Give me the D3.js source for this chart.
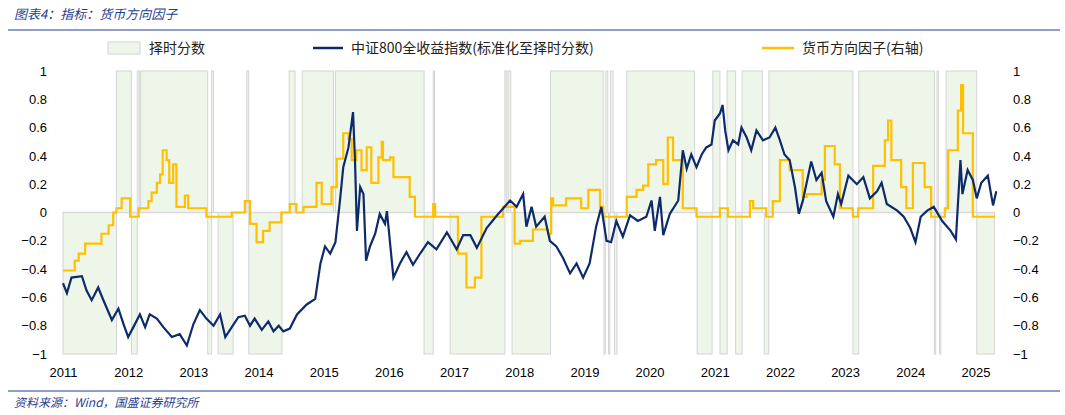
<!DOCTYPE html>
<html><head><meta charset="utf-8">
<script src="https://cdn.jsdelivr.net/npm/d3@7"></script>
<style>body{margin:0;background:#fff;font-family:"Noto Sans CJK SC","Noto Sans",sans-serif}</style>
</head><body><svg id="c" width="1065" height="415"></svg>
<script>
const yearTicks=[2011,2012,2013,2014,2015,2016,2017,2018,2019,2020,2021,2022,2023,2024,2025];
const yTicks=[1,0.8,0.6,0.4,0.2,0,-0.2,-0.4,-0.6,-0.8,-1];
// timing score segments: [start, end, score]
const shadeStart=[2011.0,2011.82,2012.05,2012.14,2012.19,2013.22,2013.28,2013.38,2013.82,2013.85,2014.47,2014.67,2015.18,2016.54,2016.68,2016.94,2017.78,2017.83,2017.89,2018.48,2019.30,2019.33,2019.37,2019.40,2019.46,2019.65,2020.73,2020.97,2021.08,2021.19,2021.32,2021.42,2021.76,2021.83,2023.12,2023.21,2024.37,2024.41,2024.45,2024.55,2025.02];
const shadeEnd  =[2011.82,2012.05,2012.14,2012.17,2013.22,2013.28,2013.31,2013.61,2013.85,2014.36,2014.56,2015.15,2016.54,2016.68,2016.70,2017.78,2017.81,2017.87,2018.48,2019.29,2019.32,2019.36,2019.39,2019.44,2019.50,2020.69,2020.96,2021.08,2021.19,2021.32,2021.42,2021.73,2021.83,2023.12,2023.21,2024.37,2024.39,2024.43,2024.47,2025.02,2025.29];
const shadeScore=[-1,1,-1,1,1,-1,1,-1,1,-1,1,1,1,-1,1,-1,1,1,-1,1,-1,1,-1,1,-1,1,-1,1,-1,1,-1,1,-1,1,-1,1,-1,1,-1,1,-1];
const idxYear=[2011.00,2011.06,2011.13,2011.29,2011.36,2011.44,2011.54,2011.62,2011.75,2011.85,2011.93,2012.00,2012.08,2012.18,2012.26,2012.33,2012.44,2012.54,2012.67,2012.79,2012.90,2013.00,2013.10,2013.20,2013.31,2013.41,2013.49,2013.59,2013.69,2013.79,2013.87,2013.94,2014.05,2014.15,2014.23,2014.31,2014.38,2014.48,2014.59,2014.74,2014.87,2014.95,2015.02,2015.10,2015.18,2015.25,2015.30,2015.38,2015.45,2015.48,2015.51,2015.56,2015.61,2015.65,2015.71,2015.79,2015.86,2015.94,2015.97,2016.07,2016.17,2016.27,2016.37,2016.48,2016.60,2016.73,2016.89,2017.04,2017.14,2017.25,2017.35,2017.50,2017.66,2017.86,2017.96,2018.06,2018.11,2018.19,2018.26,2018.39,2018.47,2018.57,2018.67,2018.78,2018.88,2018.98,2019.08,2019.18,2019.26,2019.34,2019.41,2019.49,2019.59,2019.70,2019.82,2019.95,2020.03,2020.08,2020.16,2020.21,2020.31,2020.44,2020.51,2020.57,2020.64,2020.72,2020.80,2020.87,2020.95,2021.00,2021.08,2021.12,2021.16,2021.21,2021.28,2021.36,2021.41,2021.49,2021.56,2021.64,2021.74,2021.84,2021.93,2022.00,2022.07,2022.15,2022.23,2022.29,2022.35,2022.48,2022.56,2022.64,2022.71,2022.82,2022.89,2022.94,2023.05,2023.18,2023.28,2023.38,2023.49,2023.56,2023.64,2023.80,2023.90,2024.00,2024.08,2024.16,2024.26,2024.36,2024.49,2024.62,2024.70,2024.77,2024.80,2024.88,2024.96,2025.02,2025.09,2025.19,2025.27,2025.32];
const idxValue=[-0.50,-0.57,-0.46,-0.45,-0.55,-0.62,-0.53,-0.62,-0.76,-0.68,-0.79,-0.88,-0.81,-0.72,-0.81,-0.72,-0.75,-0.81,-0.88,-0.86,-0.94,-0.79,-0.69,-0.75,-0.80,-0.72,-0.88,-0.81,-0.74,-0.73,-0.80,-0.75,-0.83,-0.77,-0.84,-0.80,-0.84,-0.82,-0.72,-0.65,-0.61,-0.36,-0.24,-0.29,-0.21,0.085,0.32,0.46,0.71,0.37,-0.13,0.18,0.13,-0.34,-0.24,-0.15,-0.01,-0.08,0.01,-0.46,-0.36,-0.28,-0.37,-0.29,-0.21,-0.26,-0.14,-0.26,-0.16,-0.16,-0.25,-0.11,-0.02,0.085,0.04,0.13,-0.10,0.04,-0.10,-0.03,-0.20,-0.24,-0.32,-0.43,-0.36,-0.46,-0.36,-0.10,0.04,-0.20,-0.21,-0.06,-0.17,-0.02,-0.06,-0.03,0.085,-0.13,0.11,-0.16,-0.01,0.085,0.44,0.31,0.41,0.32,0.41,0.46,0.48,0.65,0.70,0.76,0.58,0.44,0.51,0.48,0.60,0.53,0.44,0.58,0.51,0.53,0.60,0.51,0.41,0.37,0.18,-0.01,0.08,0.36,0.23,0.28,0.08,-0.03,0.13,0.06,0.26,0.20,0.25,0.10,0.15,0.21,0.06,0.013,-0.03,-0.11,-0.21,-0.03,0.013,0.04,-0.06,-0.13,-0.19,0.37,0.13,0.30,0.23,0.10,0.21,0.26,0.05,0.15];
const facYear=[2011.00,2011.18,2011.24,2011.34,2011.59,2011.70,2011.77,2011.82,2011.90,2012.03,2012.16,2012.31,2012.36,2012.44,2012.49,2012.53,2012.59,2012.63,2012.69,2012.74,2012.87,2012.92,2013.20,2013.59,2013.79,2013.87,2013.97,2014.07,2014.17,2014.35,2014.48,2014.58,2014.69,2014.89,2014.97,2015.12,2015.20,2015.30,2015.38,2015.43,2015.50,2015.58,2015.66,2015.73,2015.84,2015.89,2015.91,2016.02,2016.07,2016.32,2016.40,2016.68,2016.71,2017.06,2017.19,2017.32,2017.42,2017.75,2017.93,2018.01,2018.21,2018.44,2018.49,2018.52,2018.72,2018.95,2019.06,2019.24,2019.29,2019.65,2019.80,2019.90,2019.98,2020.10,2020.21,2020.28,2020.36,2020.51,2020.72,2021.08,2021.20,2021.54,2021.59,2021.79,2021.89,2022.00,2022.15,2022.35,2022.41,2022.64,2022.69,2022.84,2022.92,2023.12,2023.20,2023.43,2023.61,2023.66,2023.71,2023.86,2023.94,2024.04,2024.22,2024.32,2024.53,2024.58,2024.73,2024.78,2024.81,2024.96,2025.30];
const facValue=[-0.41,-0.34,-0.29,-0.22,-0.15,-0.09,0,0.03,0.10,-0.03,0.03,0.08,0.14,0.21,0.27,0.44,0.37,0.21,0.34,0.04,0.12,0.03,-0.03,0,0.08,-0.08,-0.21,-0.13,-0.07,0,0.06,0,0.04,0.21,0.06,0.18,0.38,0.56,0.52,0.37,0.44,0.30,0.46,0.21,0.39,0.50,0.37,0.39,0.25,0.11,-0.03,0.06,-0.03,-0.29,-0.53,-0.46,-0.03,0.04,-0.22,-0.20,-0.12,-0.15,0.10,0.05,0.10,0.03,0.16,0.04,-0.03,0.11,0.16,0.19,0.34,0.37,0.20,0.53,0.37,0.03,-0.03,0.03,-0.03,0.08,0.03,-0.03,0.08,0.37,0.30,0.11,0.13,0.23,0.47,0.34,0.03,-0.03,0.03,0.33,0.51,0.65,0.37,0.18,0.03,0.35,0.18,-0.03,0.03,0.44,0.72,0.90,0.56,-0.03,-0.03];

const svg=d3.select("#c");
const x=d3.scaleLinear().domain([2011,2025.3]).range([63,995]);
const y=d3.scaleLinear().domain([-1,1]).range([354,71]);
const y2=d3.scaleLinear().domain([-1,1]).range([354,71]);
const blue="#0d2a6b", gold="#ffc000", titleC="#1f3f8f";

svg.append("text").attr("x",14).attr("y",19).attr("font-size",13).attr("font-style","italic").attr("fill",titleC).text("图表4：指标：货币方向因子");
svg.append("line").attr("x1",8).attr("x2",1060).attr("y1",30).attr("y2",30).attr("stroke",titleC).attr("stroke-width",1);
svg.append("line").attr("x1",8).attr("x2",1060).attr("y1",391).attr("y2",391).attr("stroke",titleC).attr("stroke-width",1);
svg.append("text").attr("x",14).attr("y",407).attr("font-size",12).attr("font-style","italic").attr("fill",titleC).text("资料来源：Wind，国盛证券研究所");

// shading
const segs=shadeStart.map((s,i)=>({s,e:shadeEnd[i],v:shadeScore[i]}));
svg.append("g").selectAll("rect").data(segs).join("rect")
 .attr("x",d=>x(d.s)).attr("width",d=>Math.max(1,x(d.e)-x(d.s)))
 .attr("y",d=>d.v>0?y(d.v):y(0)).attr("height",d=>Math.abs(y(d.v)-y(0)))
 .attr("fill","#eef6e9").attr("stroke","#d4d4d4").attr("stroke-width",1);
svg.append("line").attr("x1",63).attr("x2",995).attr("y1",y(0)).attr("y2",y(0)).attr("stroke","#d9d9d9").attr("stroke-width",1.5);

// axes
const lab={"font-size":13,"fill":"#000","font-family":"Liberation Sans, Arial, sans-serif"};
function applyLab(s){Object.entries(lab).forEach(([k,v])=>s.attr(k,v));return s;}
const yl=svg.append("g").attr("transform","translate(50,0)").call(d3.axisLeft(y).tickValues(yTicks).tickSize(0).tickFormat(d3.format("~g")));
yl.select(".domain").remove(); applyLab(yl.selectAll("text")).attr("dx",0);
const yr=svg.append("g").attr("transform","translate(1010,0)").call(d3.axisRight(y2).tickValues(yTicks).tickSize(0).tickFormat(d3.format("~g")));
yr.select(".domain").remove(); applyLab(yr.selectAll("text"));
const xa=svg.append("g").attr("transform","translate(0,362)").call(d3.axisBottom(x).tickValues(yearTicks).tickSize(0).tickFormat(d3.format("d")));
xa.select(".domain").remove(); applyLab(xa.selectAll("text")).attr("dy","0.9em");

// lines
svg.append("path").datum(facYear.map((t,i)=>[t,facValue[i]])).attr("fill","none").attr("stroke",gold).attr("stroke-width",2.2)
 .attr("d",d3.line().x(d=>x(d[0])).y(d=>y2(d[1])).curve(d3.curveStepAfter));
svg.append("path").datum(idxYear.map((t,i)=>[t,idxValue[i]])).attr("fill","none").attr("stroke",blue).attr("stroke-width",2.2)
 .attr("d",d3.line().x(d=>x(d[0])).y(d=>y(d[1])));

// legend
const lg=svg.append("g").attr("font-size",14).attr("fill","#222");
lg.append("rect").attr("x",108).attr("y",42).attr("width",32).attr("height",12).attr("fill","#eef6e9").attr("stroke","#d4d4d4");
lg.append("text").attr("x",149).attr("y",53).text("择时分数");
lg.append("line").attr("x1",313).attr("x2",343).attr("y1",48).attr("y2",48).attr("stroke",blue).attr("stroke-width",2.5);
lg.append("text").attr("x",351).attr("y",53).text("中证800全收益指数(标准化至择时分数)");
lg.append("line").attr("x1",762).attr("x2",794).attr("y1",48).attr("y2",48).attr("stroke",gold).attr("stroke-width",2.5);
lg.append("text").attr("x",802).attr("y",53).text("货币方向因子(右轴)");
</script></body></html>
